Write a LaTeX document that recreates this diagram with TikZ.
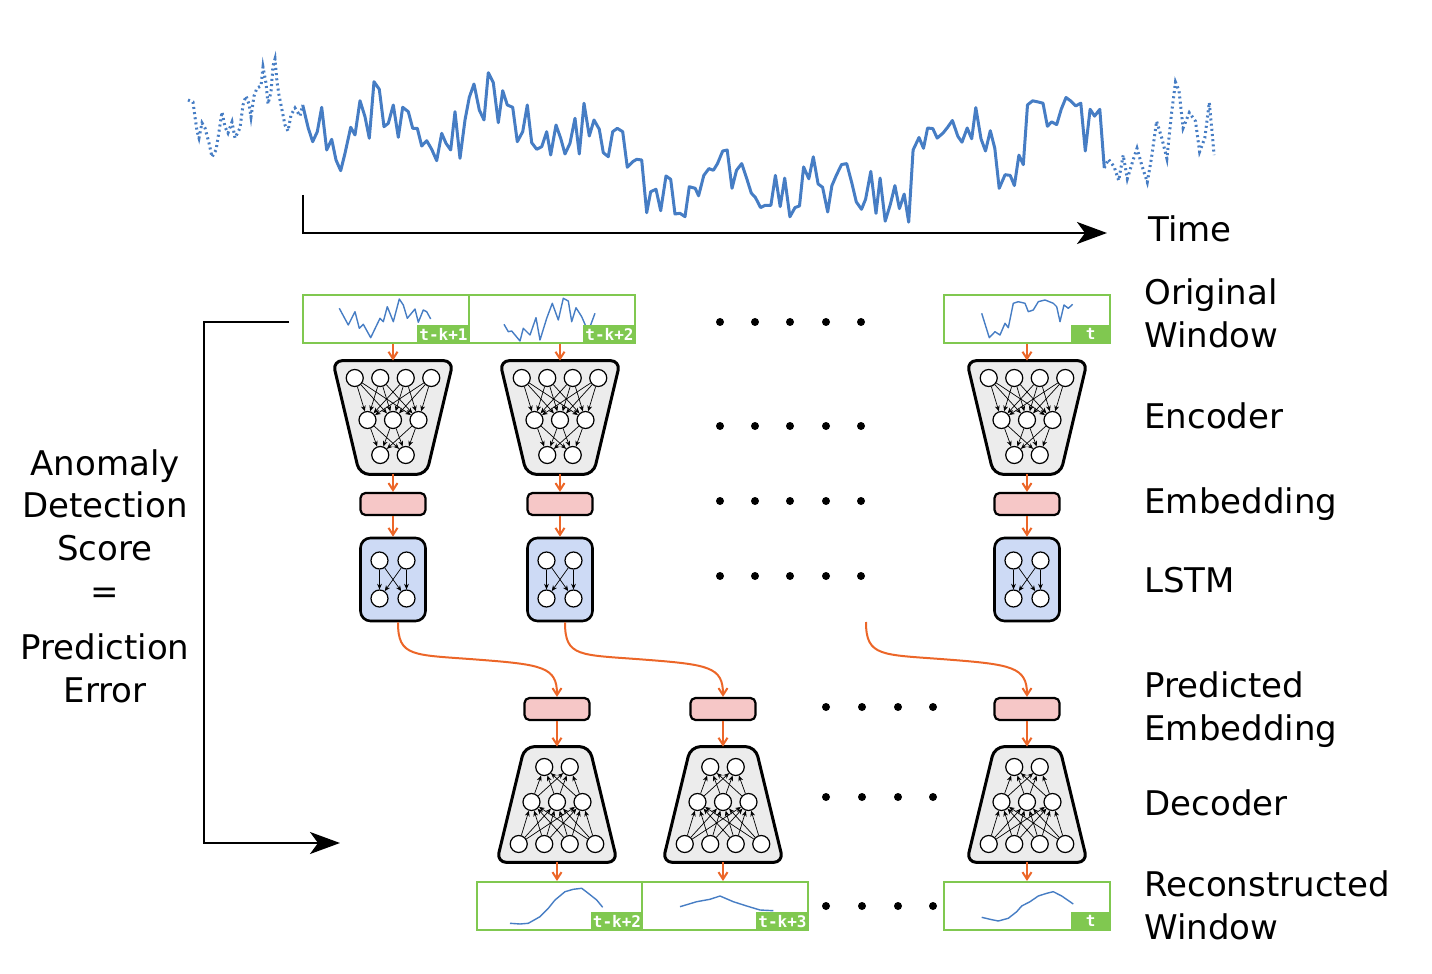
\documentclass[tikz,border=0pt]{standalone}
\usepackage{fontspec}
\setmainfont{DejaVu Sans}
\newfontfamily\tagfam{DejaVu Sans Mono}
\usetikzlibrary{arrows.meta,shapes.geometric,calc}
\definecolor{serblue}{RGB}{70,125,196}
\definecolor{wgreen}{RGB}{128,200,80}
\definecolor{embpink}{RGB}{246,199,199}
\definecolor{lstmblue}{RGB}{205,218,245}
\definecolor{encgray}{RGB}{236,236,236}
\definecolor{arrorange}{RGB}{236,102,40}
\newcommand{\bigfont}{\fontsize{17}{21.5}\selectfont}
\newcommand{\EncNet}[1]{%
  \draw[trap] (#1.north west) -- (#1.north east) -- ($(#1.south east)+(-27,0)$) -- ($(#1.south west)+(27,0)$) -- cycle;
  \foreach \i/\dx in {1/-38.25,2/-12.75,3/12.75,4/38.25} \node[neuron] (#1t\i) at ($(#1)+(\dx,-39.5)$) {};
  \foreach \i/\dx in {1/-25.5,2/0,3/25.5} \node[neuron] (#1m\i) at ($(#1)+(\dx,2.5)$) {};
  \foreach \i/\dx in {1/-12.75,2/12.75} \node[neuron] (#1b\i) at ($(#1)+(\dx,37.5)$) {};
  \foreach \i in {1,...,4} {\foreach \j in {1,2,3} {\draw[narr] (#1t\i) -- (#1m\j);}}
  \foreach \i in {1,2,3} {\foreach \j in {1,2} {\draw[narr] (#1m\i) -- (#1b\j);}}
}
\newcommand{\DecNet}[1]{%
  \draw[trap] ($(#1.north west)+(28,0)$) -- ($(#1.north east)+(-28,0)$) -- (#1.south east) -- (#1.south west) -- cycle;
  \foreach \i/\dx in {1/-12.75,2/12.75} \node[neuron] (#1t\i) at ($(#1)+(\dx,-37.5)$) {};
  \foreach \i/\dx in {1/-25.5,2/0,3/25.5} \node[neuron] (#1m\i) at ($(#1)+(\dx,-2.5)$) {};
  \foreach \i/\dx in {1/-38.25,2/-12.75,3/12.75,4/38.25} \node[neuron] (#1b\i) at ($(#1)+(\dx,39.5)$) {};
  \foreach \i in {1,...,4} {\foreach \j in {1,2,3} {\draw[narr] (#1b\i) -- (#1m\j);}}
  \foreach \i in {1,2,3} {\foreach \j in {1,2} {\draw[narr] (#1m\i) -- (#1t\j);}}
}
\newcommand{\LstmNet}[1]{%
  \node[neuron] (#1a1) at ($(#1)+(-13.5,-19)$) {};
  \node[neuron] (#1a2) at ($(#1)+(13.5,-19)$) {};
  \node[neuron] (#1b1) at ($(#1)+(-13.5,19)$) {};
  \node[neuron] (#1b2) at ($(#1)+(13.5,19)$) {};
  \foreach \i in {1,2} {\foreach \j in {1,2} {\draw[narr] (#1a\i) -- (#1b\j);}}
}
\newcommand{\Swoosh}[2]{%
  \draw[oarr] (#1) .. controls +(0,35) and +(-65,-5) .. ($(#1)!0.5!(#2)$) .. controls +(65,5) and +(0,-30) .. (#2);
}
\begin{document}
\begin{tikzpicture}[x=0.5pt,y=-0.5pt,
  neuron/.style={circle,draw,fill=white,line width=0.6pt,minimum size=8.5pt,inner sep=0pt},
  narr/.style={-{Stealth[length=2.8pt,width=2.4pt]},line width=0.35pt},
  encbox/.style={rectangle,minimum width=60pt,minimum height=56.5pt,inner sep=0pt,draw=none},
  decbox/.style={rectangle,minimum width=60pt,minimum height=57.5pt,inner sep=0pt,draw=none},
  trap/.style={draw,line width=1.5pt,fill=encgray,rounded corners=5pt,line join=round},
  emb/.style={rectangle,draw,line width=1.1pt,fill=embpink,minimum width=32.5pt,minimum height=11pt,rounded corners=2.5pt,inner sep=0pt},
  lstm/.style={rectangle,draw,line width=1.3pt,fill=lstmblue,minimum width=32.5pt,minimum height=41.5pt,rounded corners=5pt,inner sep=0pt},
  win/.style={rectangle,draw=wgreen,line width=1pt,fill=white,minimum width=83pt,minimum height=24pt,inner sep=0pt},
  tag/.style={fill=wgreen,text=white,font=\tagfam\bfseries\fontsize{8}{9}\selectfont,inner xsep=1pt,inner ysep=0pt,
    minimum height=9.5pt,minimum width=20pt,anchor=south east},
  oarr/.style={draw=arrorange,line width=1pt,-{Straight Barb[length=3.5pt,width=4.5pt]}},
  bigarr/.style={line width=1pt,-{Stealth[length=15pt,width=11pt,inset=4pt]}},
  ser/.style={draw=serblue,line width=1.5pt,line join=round},
  dser/.style={draw=serblue,line width=1.5pt,dash pattern=on 1pt off 1.6pt},
  mser/.style={draw=serblue,line width=0.7pt,line join=round},
  lbl/.style={anchor=base west,inner sep=0pt,font=\bigfont},
  clbl/.style={anchor=base,inner sep=0pt,font=\bigfont}
]
\useasboundingbox (0,0) rectangle (1432,974);

% ---------- top time series ----------
\draw[dser] (188,100)--(193,102)--(195,117)--(197,131)--(199,138)--(202,123)--(205,128)--(209,143)--(212,157)--(216,150)--(218,138)--(222,112)--(225,127)--(228,133)--(232,122)--(235,138)--(240,128)--(243,105)--(246,96)--(249,104)--(251,117)--(254,96)--(257,88)--(261,86)--(263,67)--(266,83)--(268,104)--(271,92)--(273,66)--(275,59)--(277,82)--(279,95)--(282,110)--(285,125)--(288,131)--(291,115)--(295,108)--(300,116)--(302.7,105);
\draw[ser] (302.7,105)--(308.3,128.3)--(312.7,141.7)--(317.3,131.7)--(321.7,107.3)--(326.7,150)--(331.7,139.3)--(336,160)--(340.7,170.7)--(345,153.3)--(350.7,127.3)--(355,135)--(360,100.7)--(365,116.7)--(369.3,138.3)--(374,81.7)--(379.3,89.3)--(384,126.7)--(388.3,123.3)--(393.3,105)--(398.3,137.3)--(402.7,107.3)--(408.3,111.7)--(412.7,128.3)--(417.3,128.3)--(421.7,146)--(426.7,140.7)--(431.7,149.3)--(436.7,160.7)--(441.7,133.3)--(446,143.3)--(450.7,150)--(455,111.7)--(460,158.3)--(465,120)--(469.3,97.3)--(474,84)--(479.3,110)--(484,120)--(488.3,72.7)--(493.3,82.7)--(498.3,122.7)--(502.7,90.7)--(507.3,105)--(512.7,107.3)--(517.3,141.7)--(522.7,131.7)--(527.3,105)--(531.7,142.7)--(536.7,149.3)--(541.7,146.7)--(546.7,131.7)--(550.7,155)--(556,125)--(560.7,138.3)--(565,154)--(570,143.3)--(575,118.3)--(579.3,154)--(584,103.3)--(589.3,136)--(594,120)--(599.3,129.3)--(603.3,152.7)--(608.3,156.7)--(612.7,131.7)--(617.3,128.3)--(622.7,131.7)--(627.3,167.3)--(632.7,161.7)--(636.7,159.3)--(641.7,160)--(646.7,212.7)--(650.7,191.7)--(656,189.3)--(660.7,210.7)--(666,176)--(670.7,179.3)--(675,214)--(680,213.3)--(685,216.7)--(689.3,186.7)--(695.2,188.3)--(698.6,195.8)--(703.8,175.4)--(708.9,168.6)--(713.4,170.3)--(717.5,163.6)--(722.7,151)--(727.2,150)--(732,188.3)--(736.5,170.3)--(741.7,163.6)--(746.8,178.8)--(751.3,193.1)--(755.4,197.5)--(760.6,207.6)--(765.1,205.3)--(770.9,205.3)--(775.4,175.4)--(780.2,206.6)--(784.7,178.1)--(789.9,216.8)--(795,207.6)--(799.5,205.9)--(803.6,166.9)--(808.8,178.8)--(813.3,156.8)--(818.1,183.9)--(822.6,187.3)--(827.7,212)--(831.9,185.6)--(836.3,175.4)--(841.5,164.6)--(846.7,163.6)--(851.8,182.9)--(856.3,201.9)--(861.5,209.3)--(865.6,199.2)--(870.8,171.4)--(876,213.4)--(880.1,178.1)--(885.2,221.2)--(890.4,204.2)--(894.9,185.6)--(899.4,208.6)--(904.2,194.1)--(908.7,222.2)--(913.1,150)--(919,137.5)--(923.5,148.3)--(927.6,128)--(932.8,128.6)--(937.2,138.1)--(943.1,133)--(947.6,127.3)--(952.4,120.5)--(957.9,136.4)--(962,142.2)--(967.2,128)--(971.7,138.8)--(975.8,107.6)--(981,138.8)--(985.5,151)--(990.3,130.7)--(994.8,148.3)--(999.2,188.3)--(1005.1,174.7)--(1010.2,175.4)--(1014.4,185.6)--(1018.9,155.1)--(1023.3,164.6)--(1027.5,104.9)--(1032.6,100.8)--(1037.8,101.9)--(1043,103.2)--(1047.4,126.3)--(1051.6,121.9)--(1056.7,124.6)--(1061.2,109.3)--(1066,97.5)--(1070.5,100.8)--(1075.7,105.9)--(1080.8,103.2)--(1085.3,151)--(1090.1,109.3)--(1094.6,116.1)--(1099.8,109.3)--(1104.3,168);
\draw[dser] (1104.3,168)--(1108.4,159.2)--(1114.2,166.9)--(1118.7,180.5)--(1123.2,155.1)--(1127.3,178.8)--(1132.5,161.9)--(1137,148.3)--(1141.8,165.3)--(1147.3,182.2)--(1151.4,158.5)--(1156.6,121.2)--(1161.8,138.1)--(1166.9,158.5)--(1171.4,114.4)--(1175.5,82.2)--(1179,90.7)--(1183.1,128)--(1189.3,112.7)--(1195.5,121.2)--(1199.6,151.7)--(1204.8,138.1)--(1209.3,102.5)--(1211.7,128)--(1214.1,155.1);

% time axis
\coordinate (ax0) at (303,195);
\coordinate (ax1) at (303,233);
\coordinate (ax2) at (1107,233);
\draw[bigarr] (ax0) -- (ax1) -- (ax2);

% ---------- right labels ----------
\node[lbl] (tTime) at (1148,242) {Time};
\node[lbl] (tOrig1) at (1144,305) {Original};
\node[lbl] (tOrig2) at (1144,348) {Window};
\node[lbl] (tEnc) at (1144,428) {Encoder};
\node[lbl] (tEmb) at (1144,513) {Embedding};
\node[lbl] (tLstm) at (1144,592) {LSTM};
\node[lbl] (tPred1) at (1144,697) {Predicted};
\node[lbl] (tPred2) at (1144,740) {Embedding};
\node[lbl] (tDec) at (1144,815) {Decoder};
\node[lbl] (tRec1) at (1144,896) {Reconstructed};
\node[lbl] (tRec2) at (1144,939) {Window};

% ---------- left labels ----------
\node[clbl] (sA) at (105,475) {Anomaly};
\node[clbl] (sB) at (105,517) {Detection};
\node[clbl] (sC) at (105,560) {Score};
\node[clbl] (sD) at (105,603) {=};
\node[clbl] (sE) at (105,659) {Prediction};
\node[clbl] (sF) at (105,702) {Error};

% ---------- original windows ----------
\node[win] (win1) at (386,319) {};
\node[win] (win2) at (552,319) {};
\node[win] (win3) at (1027,319) {};
\draw[mser] (339.3,308.3)--(348.3,325)--(355,311.7)--(359.3,328.3)--(363.3,324.3)--(370.7,337.7)--(380,318.3)--(383.3,321.7)--(387.3,306.7)--(393.3,321.7)--(399.3,299)--(403.3,305)--(407.3,318.3)--(415,309)--(418.3,322.3)--(423.3,310)--(426.7,311.7)--(430.7,319);
\draw[mser] (504,324.3)--(508.3,331.7)--(511.7,331)--(520,341)--(523.3,328.3)--(530,335)--(536,317.7)--(540,340)--(546.7,318.3)--(552.3,303.3)--(558.3,320)--(563.3,298.3)--(568.3,301)--(571.7,321.7)--(576,307.7)--(581.7,316.7)--(586.7,328.3)--(590,326.7)--(595,313.3);
\draw[mser] (981.7,313.3)--(989.3,337.7)--(995,331.7)--(1000,335)--(1005,323.3)--(1008.3,327.7)--(1013.3,303.3)--(1018.3,301.7)--(1025,303.3)--(1028.3,311.7)--(1033.3,310)--(1038.3,301.7)--(1045,300)--(1053.3,303.3)--(1056.7,306.7)--(1060,321.7)--(1064,305)--(1068.3,308.3)--(1072.7,304.3);
\node[tag] (tag1) at (win1.south east) {t-k+1};
\node[tag] (tag2) at (win2.south east) {t-k+2};
\node[tag] (tag3) at (win3.south east) {t};

% ---------- encoders ----------
\node[encbox] (enc1) at (393,417.5) {};
\node[encbox] (enc2) at (560,417.5) {};
\node[encbox] (enc3) at (1027,417.5) {};
\EncNet{enc1}
\EncNet{enc2}
\EncNet{enc3}

% ---------- embeddings ----------
\node[emb] (e1) at (393,504) {};
\node[emb] (e2) at (560,504) {};
\node[emb] (e3) at (1027,504) {};

% ---------- LSTMs ----------
\node[lstm] (l1) at (393,579.5) {};
\node[lstm] (l2) at (560,579.5) {};
\node[lstm] (l3) at (1027,579.5) {};
\LstmNet{l1}
\LstmNet{l2}
\LstmNet{l3}

% vertical connectors (top half)
\foreach \k in {1,2,3} {
  \draw[oarr] (win\k.south -| enc\k.north) -- (enc\k.north);
  \draw[oarr] (enc\k.south) -- (e\k.north);
  \draw[oarr] (e\k.south) -- (l\k.north);
}

% ---------- predicted embeddings ----------
\node[emb] (p1) at (557,709) {};
\node[emb] (p2) at (723,709) {};
\node[emb] (p3) at (1027,709) {};

% ---------- decoders ----------
\node[decbox] (dec1) at (557,804.5) {};
\node[decbox] (dec2) at (723,804.5) {};
\node[decbox] (dec3) at (1027,804.5) {};
\DecNet{dec1}
\DecNet{dec2}
\DecNet{dec3}

% ---------- reconstructed windows ----------
\node[win] (rec1) at (559.5,906) {};
\node[win] (rec2) at (725,906) {};
\node[win] (rec3) at (1027,906) {};
\draw[mser] (510,923.3)--(520,924)--(528.3,923.3)--(540,916.7)--(548.3,908.3)--(555,900)--(565,891.7)--(573.3,889.3)--(581.7,888.3)--(588.3,893.3)--(596.7,900)--(602.7,907.3);
\draw[mser] (680,906.7)--(696.7,901.7)--(710,899.3)--(720,896)--(733.3,901.7)--(746.7,906)--(760,910)--(773.3,910.7);
\draw[mser] (981.7,917.3)--(990,919.3)--(998.3,921)--(1008.3,918.3)--(1016.7,911.7)--(1021.7,906)--(1030,901.7)--(1038.3,896)--(1046.7,893.3)--(1053.3,891.7)--(1061.7,896)--(1073.3,904);
\node[tag] (rtag1) at (rec1.south east) {t-k+2};
\node[tag] (rtag2) at (rec2.south east) {t-k+3};
\node[tag] (rtag3) at (rec3.south east) {t};

\foreach \k in {1,2,3} {
  \draw[oarr] (p\k.south) -- (dec\k.north);
  \draw[oarr] (dec\k.south) -- (dec\k.south |- rec\k.north);
}

% ---------- LSTM -> predicted embedding ----------
\coordinate (s1) at ($(l1.south)+(5,0)$);
\coordinate (s2) at ($(l2.south)+(5,0)$);
\coordinate (s3) at (866,622);
\Swoosh{s1}{p1.north}
\Swoosh{s2}{p2.north}
\Swoosh{s3}{p3.north}

% ---------- ellipsis dots ----------
\foreach \x in {720,755,790,826,861} {
  \foreach \y in {322,426,501,576} {\fill (\x,\y) circle[radius=2pt];}
}
\foreach \x in {826,862,898,933} {
  \foreach \y in {707,797,906} {\fill (\x,\y) circle[radius=2pt];}
}

% ---------- feedback bracket ----------
\coordinate (brtop) at (204,322);
\coordinate (brbot) at (204,843);
\coordinate (brend) at (340,843);
\draw[bigarr] ([xshift=-6.5pt]win1.west |- brtop) -- (brtop) -- (brbot) -- (brend);

\end{tikzpicture}
\end{document}
